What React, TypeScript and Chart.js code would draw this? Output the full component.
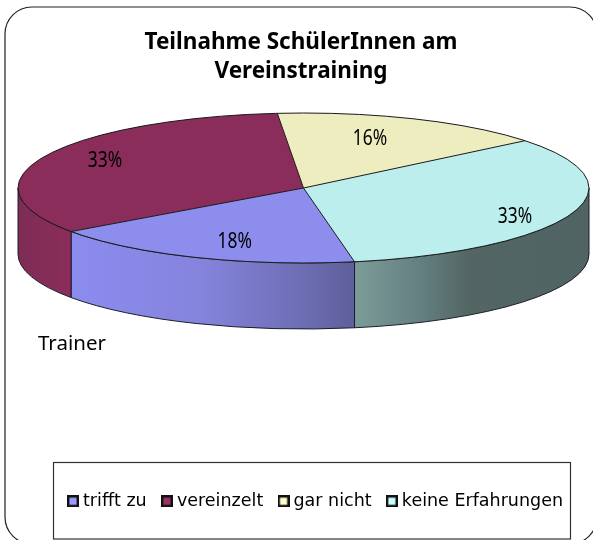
import React, { useEffect, useRef } from "react";
import { Chart, registerables } from "chart.js";

Chart.register(...registerables);

const categories = ["trifft zu", "vereinzelt", "gar nicht", "keine Erfahrungen"];
const shares = [18, 33.4, 15.6, 33];
const titleLines = ["Teilnahme SchülerInnen am", "Vereinstraining"];
const noteText = "Trainer";

const faceColours = ["#8D8DED", "#8B2D5B", "#EDEDC0", "#BCEEEE"];
const legendColours = ["#9999FF", "#993366", "#FFFFCC", "#CCFFFF"];
const labelFractions = [[0.64, 0.78], [0.765, 0.86], [0.6, 0.71], [0.79, 1.1]];

const CX = 303.5;
const CY = 188;
const RX = 285.5;
const RY = 75;
const DEPTH = 66;
const TWO_PI = Math.PI * 2;

const wallStops: Record<number, [number, string][]> = {
  0: [[70, "#8C8CF0"], [200, "#8484DD"], [300, "#6E6EB5"], [354, "#5F5F9B"]],
  1: [[18, "#7E2C55"], [70, "#8B2D5A"]],
  3: [[354, "#7C9C99"], [420, "#648080"], [468, "#536664"], [589, "#4F6463"]],
};

function swatch(colour: string) {
  const c = document.createElement("canvas");
  c.width = 12;
  c.height = 12;
  const g = c.getContext("2d")!;
  g.fillStyle = colour;
  g.fillRect(1, 1, 10, 10);
  g.strokeStyle = "#111";
  g.lineWidth = 2.4;
  g.strokeRect(1.2, 1.2, 9.6, 9.6);
  return c;
}

function roundedPath(ctx: CanvasRenderingContext2D, x: number, y: number, w: number, h: number, r: number) {
  ctx.beginPath();
  ctx.roundRect(x, y, w, h, r);
}

const pie3d = {
  id: "pie3d",
  beforeDraw(chart: any) {
    const ctx = chart.ctx;
    ctx.save();
    ctx.fillStyle = "#fff";
    ctx.fillRect(0, 0, chart.width, chart.height);
    roundedPath(ctx, 5, 7, 592, 537, 27);
    ctx.strokeStyle = "#222";
    ctx.lineWidth = 1.2;
    ctx.stroke();
    ctx.strokeStyle = "#777";
    ctx.lineWidth = 1.2;
    ctx.beginPath();
    ctx.moveTo(5, 34);
    ctx.lineTo(5, 516);
    ctx.stroke();
    ctx.strokeStyle = "#333";
    ctx.lineWidth = 1.2;
    ctx.strokeRect(53.5, 462.5, 517, 76.5);
    ctx.restore();
  },
  beforeDatasetDraw(chart: any, args: any) {
    const ctx = chart.ctx;
    const arcs = args.meta.data;
    ctx.save();
    arcs.forEach((arc: any, i: number) => {
      const { startAngle, endAngle } = arc.getProps(["startAngle", "endAngle"], true);
      [0, TWO_PI].forEach((k) => {
        const a0 = Math.max(startAngle, k);
        const a1 = Math.min(endAngle, k + Math.PI);
        if (a1 <= a0) return;
        const stops = wallStops[i];
        const x0 = stops[0][0];
        const x1 = stops[stops.length - 1][0];
        const grad = ctx.createLinearGradient(x0, 0, x1, 0);
        stops.forEach(([x, col]) => grad.addColorStop((x - x0) / (x1 - x0), col));
        ctx.beginPath();
        ctx.ellipse(CX, CY, RX, RY, 0, a0, a1);
        ctx.ellipse(CX, CY + DEPTH, RX, RY, 0, a1, a0, true);
        ctx.closePath();
        ctx.fillStyle = grad;
        ctx.fill();
        ctx.strokeStyle = "#1c1c2c";
        ctx.lineWidth = 1;
        ctx.stroke();
      });
    });
    ctx.restore();
    const first = arcs[0];
    ctx.save();
    ctx.translate(CX, CY);
    ctx.scale(1, RY / RX);
    ctx.translate(-first.x, -first.y);
  },
  afterDatasetDraw(chart: any, args: any) {
    const ctx = chart.ctx;
    ctx.restore();
    const arcs = args.meta.data;
    ctx.save();
    ctx.strokeStyle = "#1a1a1a";
    ctx.lineWidth = 1;
    ctx.beginPath();
    ctx.ellipse(CX, CY, RX, RY, 0, 0, TWO_PI);
    ctx.stroke();
    arcs.forEach((arc: any) => {
      const a = arc.startAngle;
      ctx.beginPath();
      ctx.moveTo(CX, CY);
      ctx.lineTo(CX + RX * Math.cos(a), CY + RY * Math.sin(a));
      ctx.stroke();
    });
    ctx.fillStyle = "#000";
    ctx.font = '22px "Noto Sans"';
    ctx.textAlign = "center";
    ctx.textBaseline = "middle";
    arcs.forEach((arc: any, i: number) => {
      const mid = (arc.startAngle + arc.endAngle) / 2;
      const [fx, fy] = labelFractions[i];
      ctx.save();
      ctx.translate(CX + RX * fx * Math.cos(mid), CY + RY * fy * Math.sin(mid));
      ctx.scale(0.79, 1);
      ctx.fillText(Math.round(shares[i]) + "%", 0, 0);
      ctx.restore();
    });
    ctx.restore();
  },
  afterDraw(chart: any) {
    const ctx = chart.ctx;
    ctx.save();
    ctx.fillStyle = "#000";
    ctx.font = '20.5px "Noto Sans"';
    ctx.textAlign = "left";
    ctx.textBaseline = "alphabetic";
    ctx.fillText(noteText, 38, 350);
    ctx.restore();
  },
};

export default function App() {
  const ref = useRef<HTMLCanvasElement>(null);
  useEffect(() => {
    document.body.style.margin = "0";
    const chart = new Chart(ref.current!, {
      type: "pie",
      data: {
        labels: categories,
        datasets: [
          {
            data: shares,
            backgroundColor: faceColours,
            borderWidth: 0,
            clip: false,
          } as any,
        ],
      },
      plugins: [pie3d],
      options: {
        responsive: false,
        animation: false,
        radius: RX,
        rotation: 169.7,
        layout: { padding: { left: 20, right: 11, top: 15, bottom: 20 } },
        plugins: {
          tooltip: { enabled: false },
          title: {
            display: true,
            text: titleLines,
            color: "#000",
            font: { family: '"Noto Sans"', size: 22.5, weight: "bold", lineHeight: 1.29 },
            padding: { top: 13, bottom: 0 },
          },
          legend: {
            display: true,
            position: "bottom",
            align: "end",
            labels: {
              color: "#000",
              font: { family: '"DejaVu Sans"', size: 17.5 },
              padding: 19,
              usePointStyle: true,
              pointStyleWidth: 2.5,
              generateLabels: () =>
                categories.map((text, i) => ({
                  text,
                  index: i,
                  hidden: false,
                  pointStyle: swatch(legendColours[i]),
                  fillStyle: legendColours[i],
                  strokeStyle: "#111",
                  lineWidth: 2,
                })),
            },
          },
        },
      } as any,
    });
    return () => chart.destroy();
  }, []);
  return (
    <div style={{ width: 593, height: 540 }}>
      <canvas ref={ref} width={593} height={540} style={{ display: "block" }} />
    </div>
  );
}
